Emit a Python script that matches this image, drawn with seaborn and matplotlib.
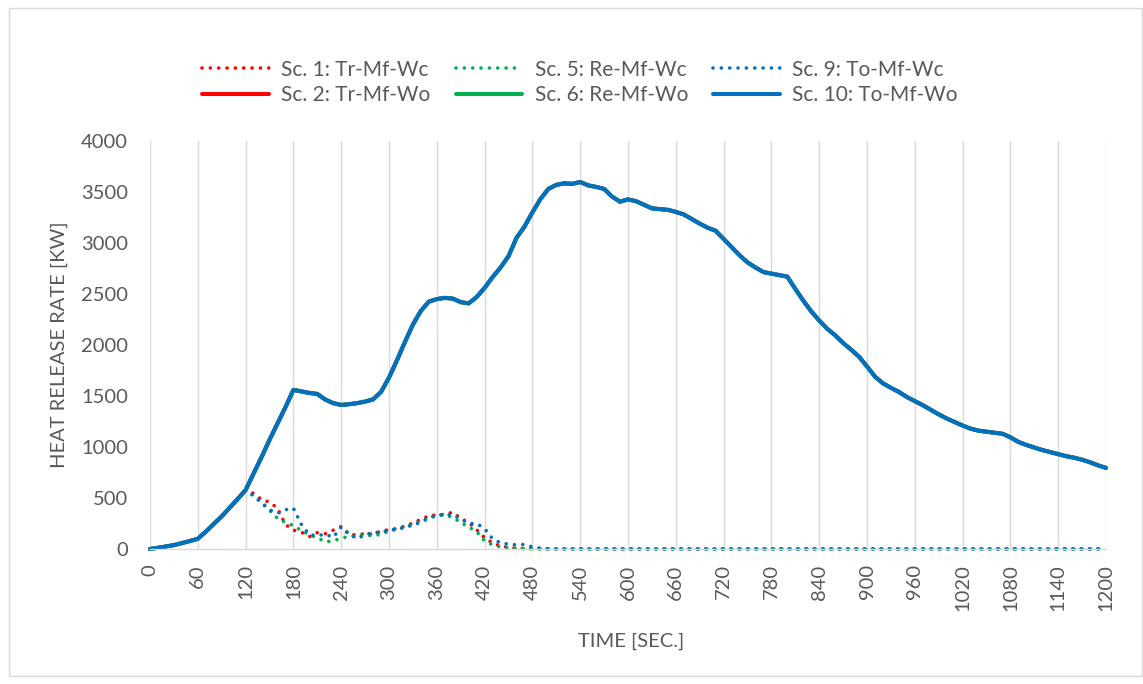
import matplotlib
matplotlib.use("Agg")
import matplotlib.pyplot as plt
import matplotlib.patches as mpatches
import seaborn as sns
import pandas as pd

# time grid in seconds (10 s sampling)
time_s = list(range(0, 1210, 10))

# Sc. 10 (and Sc. 2 / Sc. 6, drawn underneath and identical)
sc10_to_mf_wo = [
    0, 12, 25, 38, 58, 78, 100, 170, 245, 320,
    405, 490, 578, 740, 900, 1070, 1230, 1390, 1560, 1545,
    1530, 1520, 1465, 1430, 1412, 1420, 1430, 1445, 1467, 1540,
    1680, 1850, 2030, 2200, 2335, 2425, 2450, 2462, 2455, 2420,
    2408, 2470, 2560, 2665, 2760, 2870, 3050, 3160, 3300, 3430,
    3530, 3570, 3585, 3580, 3598, 3565, 3550, 3530, 3455, 3405,
    3428, 3410, 3375, 3340, 3332, 3325, 3305, 3280, 3235, 3190,
    3150, 3120, 3040, 2960, 2880, 2810, 2760, 2715, 2700, 2685,
    2670, 2550, 2435, 2330, 2240, 2160, 2095, 2020, 1955, 1885,
    1790, 1690, 1624, 1580, 1540, 1490, 1450, 1410, 1365, 1320,
    1280, 1245, 1210, 1180, 1160, 1150, 1140, 1130, 1095, 1050,
    1020, 995, 970, 950, 930, 910, 895, 875, 850, 820,
    795,
]
sc2_tr_mf_wo = sc10_to_mf_wo
sc6_re_mf_wo = sc10_to_mf_wo

# first 120 s identical to the open-window runs
early = sc10_to_mf_wo[:12]

sc1_tr_mf_wc = early + [
    578, 545, 485, 460, 400, 240, 185, 165, 120, 160,
    150, 185, 220, 140, 140, 150, 145, 175, 190, 200,
    225, 255, 290, 325, 335, 340, 360, 300, 260, 190,
    110, 60, 30, 15, 8, 4, 2, 1, 0,
] + [0] * 70

sc5_re_mf_wc = early + [
    578, 520, 450, 380, 300, 260, 230, 180, 140, 110,
    70, 80, 105, 125, 130, 135, 130, 145, 175, 195,
    215, 245, 275, 300, 325, 335, 310, 260, 215, 170,
    80, 40, 20, 10, 5, 3, 1, 0, 0,
] + [0] * 70

sc9_to_mf_wc = early + [
    578, 525, 460, 385, 350, 385, 400, 240, 140, 130,
    145, 115, 215, 150, 100, 140, 160, 165, 185, 195,
    210, 235, 260, 305, 333, 335, 335, 295, 250, 250,
    200, 100, 60, 48, 40, 45, 20, 8, 3,
] + [0] * 70

RED = "#FF0000"
GREEN = "#00B050"
BLUE = "#0070C0"
GRID = "#D9D9D9"
TEXT = "#595959"

sns.set_theme(style="white")
plt.rcParams["font.family"] = ["Lato", "DejaVu Sans"]

fig = plt.figure(figsize=(11.43, 6.84), dpi=100)
ax = fig.add_axes([150 / 1143, 1 - 549 / 684, 956 / 1143, 408 / 684])

dot = (0, (0.01, 2.3))
series = [
    ("Sc. 1: Tr-Mf-Wc", sc1_tr_mf_wc, RED, dot, 2.6),
    ("Sc. 2: Tr-Mf-Wo", sc2_tr_mf_wo, RED, "-", 2.9),
    ("Sc. 5: Re-Mf-Wc", sc5_re_mf_wc, GREEN, dot, 2.6),
    ("Sc. 6: Re-Mf-Wo", sc6_re_mf_wo, GREEN, "-", 2.9),
    ("Sc. 9: To-Mf-Wc", sc9_to_mf_wc, BLUE, dot, 2.6),
    ("Sc. 10: To-Mf-Wo", sc10_to_mf_wo, BLUE, "-", 2.9),
]

for name, vals, color, ls, lw in series:
    df = pd.DataFrame({"time": time_s, "hrr": vals})
    sns.lineplot(
        data=df, x="time", y="hrr", ax=ax, color=color, linestyle=ls,
        linewidth=lw, label=name, dash_capstyle="round",
        solid_capstyle="round", clip_on=False,
    )

ax.set_xlim(0, 1200)
ax.set_ylim(0, 4000)
ax.set_xticks(list(range(0, 1260, 60)))
ax.set_yticks(list(range(0, 4500, 500)))
ax.tick_params(axis="x", length=0, pad=11, labelsize=14.5, labelcolor=TEXT,
               labelrotation=90)
ax.tick_params(axis="y", length=0, pad=16, labelsize=14.5, labelcolor=TEXT)
for lbl in ax.get_xticklabels():
    lbl.set_verticalalignment("top")

ax.grid(axis="x", color=GRID, linewidth=1.0)
ax.grid(axis="y", visible=False)
ax.set_axisbelow(True)
for side in ["left", "right", "top"]:
    ax.spines[side].set_visible(False)
ax.spines["bottom"].set_color(GRID)
ax.spines["bottom"].set_linewidth(1.0)

ax.set_xlabel("TIME [SEC.]", fontsize=14.5, color=TEXT)
ax.set_ylabel("HEAT RELEASE RATE [KW]", fontsize=14.5, color=TEXT)
ax.xaxis.set_label_coords(0.503, -0.205)
ax.yaxis.set_label_coords(-0.086, 0.5)

handles, labels = ax.get_legend_handles_labels()
ax.get_legend().remove()
fig.legend(
    handles, labels, loc="center", ncol=3,
    bbox_to_anchor=(580 / 1143, 1 - 82.5 / 684),
    frameon=False, fontsize=15, handlelength=3.2, handletextpad=0.6,
    columnspacing=1.2, labelspacing=0.28, labelcolor=TEXT,
)

# light chart-area border
fig.patches.append(mpatches.Rectangle(
    (9 / 1143, 1 - 676 / 684), 1133 / 1143, 668 / 684,
    transform=fig.transFigure, fill=False, edgecolor=GRID, linewidth=1.0,
))

fig.savefig("out.png", dpi=100)
